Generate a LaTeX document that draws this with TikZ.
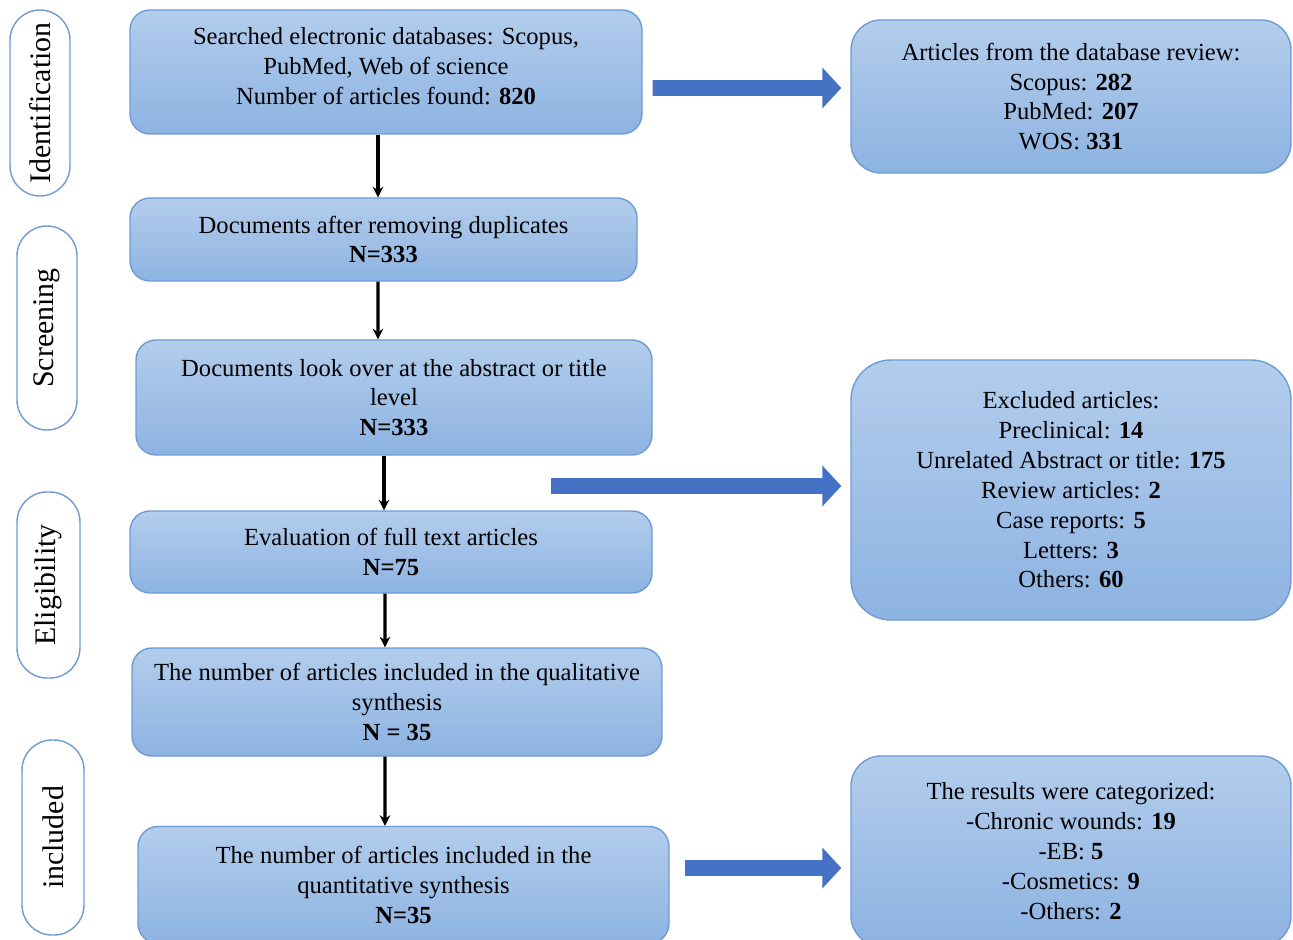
\documentclass[tikz,border=0pt]{standalone}
\usepackage{fontspec}
\setmainfont{Liberation Serif}
\usetikzlibrary{arrows.meta,calc}

\definecolor{boxtop}{HTML}{B3CDEC}
\definecolor{boxbot}{HTML}{8DB3E2}
\definecolor{boxline}{HTML}{6F9BD4}
\definecolor{arrowblue}{HTML}{4672C6}

\tikzset{
  stepbox/.style={draw=boxline, line width=0.8pt, rounded corners=0.4cm,
    top color=boxtop, bottom color=boxbot, align=center, inner sep=0pt,
    font=\fontsize{14}{17}\selectfont},
  phase/.style={draw=boxline, line width=0.8pt, fill=white, rounded corners=0.6cm,
    rotate=90, inner sep=0pt, minimum height=1.2cm, font=\fontsize{17}{20}\selectfont},
  flow/.style={line width=1.8pt, -{Stealth[length=6pt,width=6pt]}},
  bigarrow/.style={draw=arrowblue, line width=9pt, -{Triangle[length=0.38cm,width=0.8cm]}},
}

\begin{document}
\begin{tikzpicture}

\useasboundingbox (0,0) rectangle (25.86,-18.8);

% -----------------------------
% Phases (left column)
% -----------------------------
\node[phase, minimum width=3.72cm] (ident) at (0.80,-2.06)  {Identification};
\node[phase, minimum width=4.08cm] (screen) at (0.94,-6.56) {Screening};
\node[phase, minimum width=3.72cm, minimum height=1.26cm] (elig) at (0.97,-11.70) {Eligibility};
\node[phase, minimum width=3.90cm, minimum height=1.24cm] (incl) at (1.06,-16.75) {included};

% -----------------------------
% Main flow
% -----------------------------
\node[stepbox, minimum width=10.24cm, minimum height=2.48cm] (search) at (7.72,-1.44)
    {Searched electronic databases: Scopus,\\ PubMed, Web of science\\ Number of articles found: \textbf{820}\\[-0.35cm]};
\node[stepbox, minimum width=10.14cm, minimum height=1.66cm] (dup) at (7.67,-4.79)
    {Documents after removing duplicates\\ \textbf{N=333}};
\node[stepbox, minimum width=10.32cm, minimum height=2.30cm] (abstr) at (7.88,-7.95)
    {Documents look over at the abstract or title\\ level\\ \textbf{N=333}};
\node[stepbox, minimum width=10.44cm, minimum height=1.64cm] (eval) at (7.82,-11.04)
    {Evaluation of full text articles\\ \textbf{N=75}};
\node[stepbox, minimum width=10.60cm, minimum height=2.16cm] (qual) at (7.94,-14.04)
    {The number of articles included in the qualitative\\ synthesis\\ \textbf{N = 35}};
\node[stepbox, minimum width=10.62cm, minimum height=2.34cm] (quant) at (8.07,-17.70)
    {The number of articles included in the\\ quantitative synthesis\\ \textbf{N=35}};

% -----------------------------
% Side boxes (right column)
% -----------------------------
\node[stepbox, rounded corners=0.6cm, minimum width=8.80cm, minimum height=3.06cm] (db) at (21.42,-1.93)
    {Articles from the database review:\\ Scopus: \textbf{282}\\ PubMed: \textbf{207}\\ WOS: \textbf{331}};
\node[stepbox, rounded corners=0.8cm, minimum width=8.80cm, minimum height=5.20cm] (excl) at (21.42,-9.80)
    {Excluded articles:\\ Preclinical: \textbf{14}\\ Unrelated Abstract or title: \textbf{175}\\
     Review articles: \textbf{2}\\ Case reports: \textbf{5}\\ Letters: \textbf{3}\\ Others: \textbf{60}};
\node[stepbox, rounded corners=0.6cm, minimum width=8.80cm, minimum height=3.80cm] (res) at (21.42,-17.02)
    {The results were categorized:\\ -Chronic wounds: \textbf{19}\\ -EB: \textbf{5}\\
     -Cosmetics: \textbf{9}\\ -Others: \textbf{2}};

% -----------------------------
% Arrows
% -----------------------------
\draw[flow] ([xshift=-0.16cm]search.south) -- ([xshift=-0.11cm]dup.north);
\draw[flow] ([xshift=-0.11cm]dup.south) -- ([xshift=-0.32cm]abstr.north);
\draw[flow] ([xshift=-0.20cm]abstr.south) -- ([xshift=-0.14cm]eval.north);
\draw[flow] ([xshift=-0.12cm]eval.south) -- ([xshift=-0.24cm]qual.north);
\draw[flow] ([xshift=-0.24cm]qual.south) -- ([xshift=-0.37cm]quant.north);

\coordinate (exclstart) at (11.02,-9.72);
\draw[bigarrow] ($(search.east)+(0.2,-0.32)$) -- ($(db.west)+(-0.18,0.17)$);
\draw[bigarrow] (exclstart) -- (exclstart -| {$(excl.west)+(-0.18,0)$});
\draw[bigarrow] ($(quant.east)+(0.3,0.34)$) -- ($(res.west)+(-0.18,-0.34)$);

\end{tikzpicture}
\end{document}
